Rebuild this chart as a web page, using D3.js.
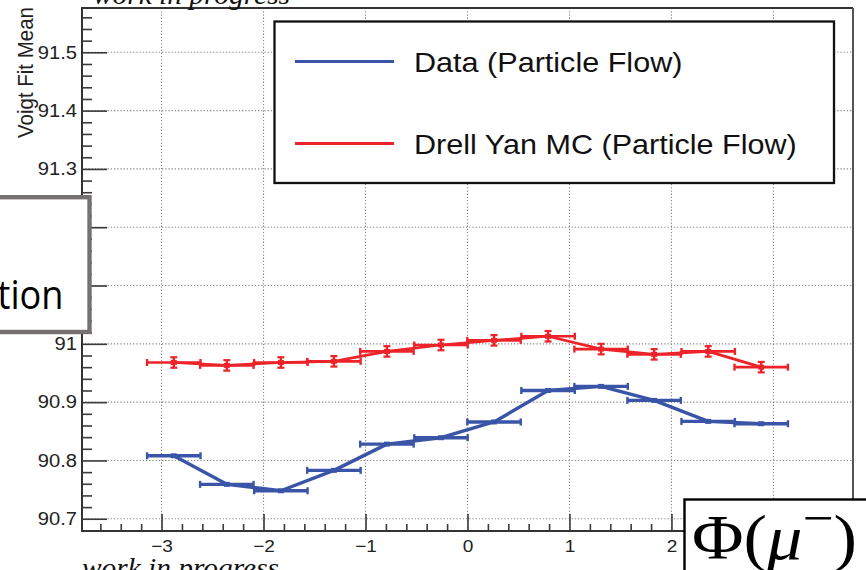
<!DOCTYPE html>
<html>
<head>
<meta charset="utf-8">
<script src="https://cdn.jsdelivr.net/npm/d3@7"></script>
<style>
  html, body { margin: 0; padding: 0; background: #fff; overflow: hidden; }
  svg { display: block; }
</style>
</head>
<body>
<svg id="chart" width="866" height="570"></svg>
<script>
// ---------------- data ----------------
const phiCenters   = [-2.88, -2.36, -1.83, -1.31, -0.79, -0.26, 0.26, 0.79, 1.31, 1.83, 2.36, 2.88];
const phiHalfWidth = 0.262;
const dataMean = [90.808, 90.759, 90.748, 90.783, 90.828, 90.839, 90.866, 90.920, 90.927, 90.903, 90.867, 90.863];
const dataErr  = [0.002, 0.002, 0.002, 0.002, 0.002, 0.002, 0.002, 0.002, 0.002, 0.002, 0.002, 0.002];
const mcMean   = [90.968, 90.963, 90.968, 90.970, 90.987, 90.998, 91.006, 91.013, 90.991, 90.982, 90.987, 90.960];
const mcErr    = [0.009, 0.009, 0.009, 0.009, 0.009, 0.009, 0.009, 0.009, 0.009, 0.009, 0.009, 0.009];
const xTicks = [-3, -2, -1, 0, 1, 2, 3];
const xTickLabels = ["−3", "−2", "−1", "0", "1", "2", ""];   // "3" is hidden under the Φ box
const yTicks = [90.7, 90.8, 90.9, 91.0, 91.1, 91.2, 91.3, 91.4, 91.5];
const yTickLabels = ["90.7", "90.8", "90.9", "91", "", "", "91.3", "91.4", "91.5"]; // 91.1/91.2 hidden under the box
const seriesNames = ["Data (Particle Flow)", "Drell Yan MC (Particle Flow)"];
const seriesColors = ["#3a55a7", "#ec2329"];
const yTitle = "Voigt Fit Mean";
const watermark = "work in progress";

// ---------------- layout ----------------
const svg = d3.select("#chart");
const X0 = 82, X1 = 853, Y0 = 531, Y1 = 8;
const x = d3.scaleLinear().domain([-3.78, 3.78]).range([X0, X1]);
const y = d3.scaleLinear().domain([90.679, 91.576]).range([Y0, Y1]);
const STRETCH = 1.12;
const sans = "'Liberation Sans', Arial, Helvetica, sans-serif";

function stretch(sel, f) {
  sel.each(function () {
    const n = this.getComputedTextLength();
    if (n > 0) d3.select(this).attr("textLength", n * (f || STRETCH)).attr("lengthAdjust", "spacingAndGlyphs");
  });
}

// gridlines
const grid = svg.append("g").attr("stroke", "#8a8a8a").attr("stroke-width", 1.1).attr("stroke-dasharray", "1.3,1.9");
grid.selectAll("line.gx").data(xTicks).join("line")
  .attr("x1", d => x(d)).attr("x2", d => x(d)).attr("y1", Y1).attr("y2", Y0);
grid.selectAll("line.gy").data(yTicks).join("line")
  .attr("x1", X0).attr("x2", X1).attr("y1", d => y(d)).attr("y2", d => y(d));

// axes
const yMinor = d3.range(90.68, 91.575, 0.02).filter(v => !yTicks.some(t => Math.abs(t - v) < 1e-6));
const xMinor = d3.range(-3.6, 3.7, 0.2).filter(v => !xTicks.some(t => Math.abs(t - v) < 1e-6));

const yAxisG = svg.append("g").attr("transform", `translate(${X0},0)`)
  .call(d3.axisLeft(y).tickValues(yTicks).tickSizeInner(-25).tickSizeOuter(0).tickPadding(5)
    .tickFormat((d, i) => yTickLabels[i]));
svg.append("g").attr("transform", `translate(${X0},0)`)
  .call(d3.axisLeft(y).tickValues(yMinor).tickSizeInner(-10).tickSizeOuter(0).tickFormat(""));
const xAxisG = svg.append("g").attr("transform", `translate(0,${Y0})`)
  .call(d3.axisBottom(x).tickValues(xTicks).tickSizeInner(-17).tickSizeOuter(0).tickPadding(9)
    .tickFormat((d, i) => xTickLabels[i]));
svg.append("g").attr("transform", `translate(0,${Y0})`)
  .call(d3.axisBottom(x).tickValues(xMinor).tickSizeInner(-7).tickSizeOuter(0).tickFormat(""));

svg.selectAll(".domain").remove();
svg.selectAll(".tick line").attr("stroke", "#3a3a3a").attr("stroke-width", 1.6);
yAxisG.selectAll("text").attr("font-family", sans).attr("font-size", 18).attr("fill", "#222");
xAxisG.selectAll("text").attr("font-family", sans).attr("font-size", 17).attr("fill", "#222");
stretch(yAxisG.selectAll("text"));
stretch(xAxisG.selectAll("text"));

// frame
svg.append("line").attr("x1", X0).attr("x2", X1).attr("y1", Y1).attr("y2", Y1).attr("stroke", "#333").attr("stroke-width", 2);
svg.append("line").attr("x1", X1).attr("x2", X1).attr("y1", Y1).attr("y2", Y0).attr("stroke", "#555").attr("stroke-width", 2);
svg.append("line").attr("x1", X0).attr("x2", X0).attr("y1", Y1 - 1).attr("y2", Y0 + 1).attr("stroke", "#333").attr("stroke-width", 2);
svg.append("line").attr("x1", X0 - 1).attr("x2", X1).attr("y1", Y0).attr("y2", Y0).attr("stroke", "#333").attr("stroke-width", 2);

// y title
svg.append("text")
  .attr("transform", `translate(33,7) rotate(-90) scale(1,${STRETCH})`)
  .attr("text-anchor", "end").attr("font-family", sans).attr("font-size", 20.5).attr("fill", "#222")
  .text(yTitle);

// series
function drawSeries(means, errs, color, lw, capV) {
  const g = svg.append("g");
  const pts = phiCenters.map((c, i) => ({ c, m: means[i], e: errs[i] }));
  g.append("path").datum(pts)
    .attr("d", d3.line().x(d => x(d.c)).y(d => y(d.m)))
    .attr("fill", "none").attr("stroke", color).attr("stroke-width", lw).attr("stroke-linejoin", "round");
  g.selectAll("line.h").data(pts).join("line")
    .attr("x1", d => x(d.c - phiHalfWidth)).attr("x2", d => x(d.c + phiHalfWidth))
    .attr("y1", d => y(d.m)).attr("y2", d => y(d.m))
    .attr("stroke", color).attr("stroke-width", lw);
  [-1, 1].forEach(s => {
    g.selectAll(null).data(pts).join("line")
      .attr("x1", d => x(d.c + s * phiHalfWidth)).attr("x2", d => x(d.c + s * phiHalfWidth))
      .attr("y1", d => y(d.m) - 3.5).attr("y2", d => y(d.m) + 3.5)
      .attr("stroke", color).attr("stroke-width", 2.4);
  });
  g.selectAll("line.v").data(pts).join("line")
    .attr("x1", d => x(d.c)).attr("x2", d => x(d.c))
    .attr("y1", d => y(d.m - d.e)).attr("y2", d => y(d.m + d.e))
    .attr("stroke", color).attr("stroke-width", 2.4);
  if (capV) {
    [1, -1].forEach(s => {
      g.selectAll(null).data(pts).join("line")
        .attr("x1", d => x(d.c) - 3.5).attr("x2", d => x(d.c) + 3.5)
        .attr("y1", d => y(d.m + s * d.e)).attr("y2", d => y(d.m + s * d.e))
        .attr("stroke", color).attr("stroke-width", 2.2);
    });
  }
  g.selectAll("rect").data(pts).join("rect")
    .attr("x", d => x(d.c) - 3).attr("y", d => y(d.m) - 2.5).attr("width", 6).attr("height", 5)
    .attr("fill", color);
}
drawSeries(mcMean, mcErr, seriesColors[1], 2.7, true);
drawSeries(dataMean, dataErr, seriesColors[0], 3.4, false);

// legend
const lg = svg.append("g");
lg.append("rect").attr("x", 274.5).attr("y", 21.5).attr("width", 559.5).attr("height", 161.5)
  .attr("fill", "#fff").attr("stroke", "#111").attr("stroke-width", 2.3);
const legendRows = [61.5, 143.5];
seriesNames.forEach((name, i) => {
  lg.append("line").attr("x1", 295).attr("x2", 394).attr("y1", legendRows[i]).attr("y2", legendRows[i])
    .attr("stroke", seriesColors[i]).attr("stroke-width", 3);
  const t = lg.append("text").attr("x", 414).attr("y", legendRows[i] + 10)
    .attr("font-family", sans).attr("font-size", 27.3).attr("fill", "#111").text(name);
  stretch(t);
});

// watermarks
const serif = "'Liberation Serif', 'Times New Roman', serif";
svg.append("text").attr("x", 93).attr("y", 3.5).attr("font-family", serif).attr("font-style", "italic")
  .attr("font-size", 28).attr("fill", "#111").attr("textLength", 197).attr("lengthAdjust", "spacingAndGlyphs").text(watermark);
svg.append("text").attr("x", 82).attr("y", 577).attr("font-family", serif).attr("font-style", "italic")
  .attr("font-size", 28).attr("fill", "#111").attr("textLength", 197).attr("lengthAdjust", "spacingAndGlyphs").text(watermark);

// overlay box left (slide text box)
svg.append("rect").attr("x", -20).attr("y", 197.2).attr("width", 109.5).attr("height", 134.8)
  .attr("fill", "#fff").attr("stroke", "#767171").attr("stroke-width", 4.4);
svg.append("text").attr("x", 63.5).attr("y", 308.5).attr("text-anchor", "end")
  .attr("font-family", "'Open Sans', 'Noto Sans', sans-serif").attr("font-size", 40).attr("fill", "#000")
  .attr("textLength", 66).attr("lengthAdjust", "spacingAndGlyphs").text("tion");

// overlay box right
svg.append("rect").attr("x", 684.5).attr("y", 499.5).attr("width", 200).attr("height", 100)
  .attr("fill", "#fff").attr("stroke", "#000").attr("stroke-width", 2.4);
const phi = svg.append("text").attr("x", 692).attr("y", 559).attr("font-family", serif)
  .attr("font-size", 64).attr("fill", "#000")
  .attr("textLength", 165).attr("lengthAdjust", "spacingAndGlyphs");
phi.append("tspan").text("Φ(");
phi.append("tspan").attr("font-style", "italic").text("μ");
phi.append("tspan").attr("font-size", 50).attr("dy", -24).text("−");
phi.append("tspan").attr("dy", 24).text(")");
</script>
</body>
</html>
